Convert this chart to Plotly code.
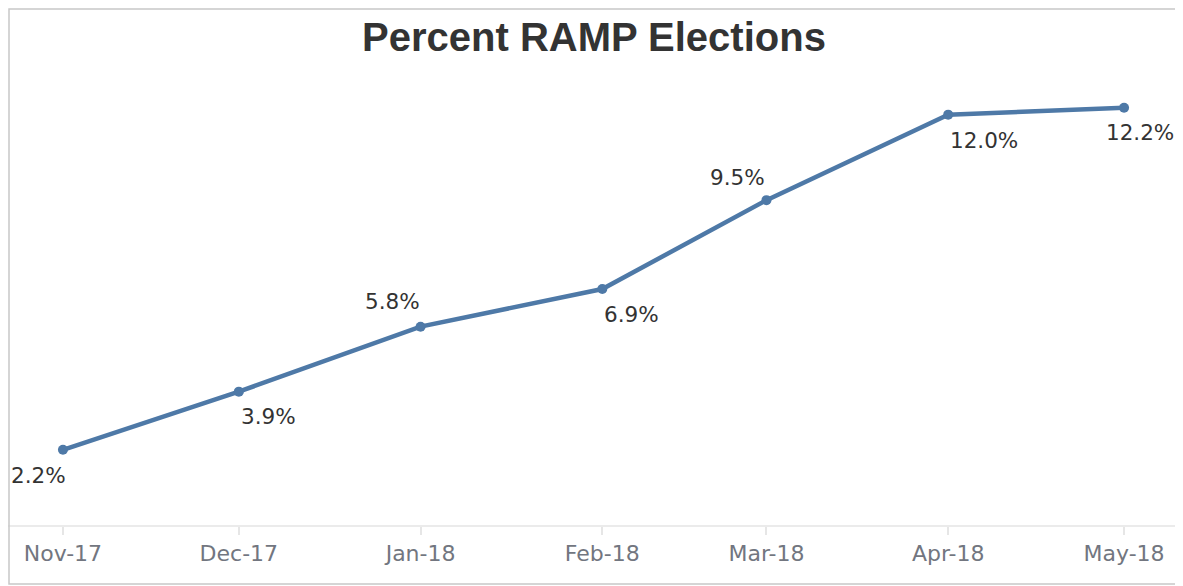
import plotly.graph_objects as go

months = ["2017-11-01", "2017-12-01", "2018-01-01", "2018-02-01", "2018-03-01", "2018-04-01", "2018-05-01"]
tick_labels = ["Nov-17", "Dec-17", "Jan-18", "Feb-18", "Mar-18", "Apr-18", "May-18"]
pct_ramp = [2.2, 3.9, 5.8, 6.9, 9.5, 12.0, 12.2]

# label placement (styling only)
lab_xanchor = ["right", "left", "right", "left", "right", "left", "right"]
lab_xshift = [5, 0, 1, 0, 1, 0, 52]
lab_yshift = [-26, -25, 25, -25, 23, -26, -25]

LINE = "#4E79A7"

fig = go.Figure()
fig.add_trace(go.Scatter(
    x=months, y=pct_ramp, mode="lines+markers",
    line=dict(color=LINE, width=4.5),
    marker=dict(color=LINE, size=10),
    hoverinfo="skip", showlegend=False,
))

for m, v, xa, xs, ys in zip(months, pct_ramp, lab_xanchor, lab_xshift, lab_yshift):
    fig.add_annotation(
        x=m, y=v, text=f"{v:.1f}%", showarrow=False,
        xanchor=xa, yanchor="middle", xshift=xs, yshift=ys,
        font=dict(family="DejaVu Sans", size=21.5, color="#333333"),
    )

W, H = 1175, 578
fig.update_layout(
    width=W, height=H,
    margin=dict(l=0, r=3, t=1, b=61),
    paper_bgcolor="white", plot_bgcolor="white",
    title=dict(
        text="<b>Percent RAMP Elections</b>",
        x=0.5, xanchor="center", y=1 - 29 / H, yanchor="middle",
        xref="paper", yref="container",
        font=dict(family="Liberation Sans", size=40, color="#333333"),
    ),
    xaxis=dict(
        type="date",
        range=["2017-10-22 15:00", "2018-05-10 13:00"],
        tickvals=months, ticktext=tick_labels,
        showgrid=False, zeroline=False,
        showline=True, linecolor="#ebebeb", linewidth=1.5,
        ticks="outside", ticklen=8, tickcolor="#e6e6e6", tickwidth=1.5,
        tickfont=dict(family="DejaVu Sans", size=22, color="#727680"),
    ),
    yaxis=dict(
        range=[0, 15.09], visible=False, showgrid=False, zeroline=False,
    ),
    shapes=[dict(
        type="rect", xref="paper", yref="paper",
        x0=1 / 1172, x1=1, y0=-(576 - 517) / 516, y1=1.0,
        line=dict(color="#c8c8c8", width=1.5), fillcolor="rgba(0,0,0,0)",
        layer="above",
    )],
)

fig.write_html("out.html")
